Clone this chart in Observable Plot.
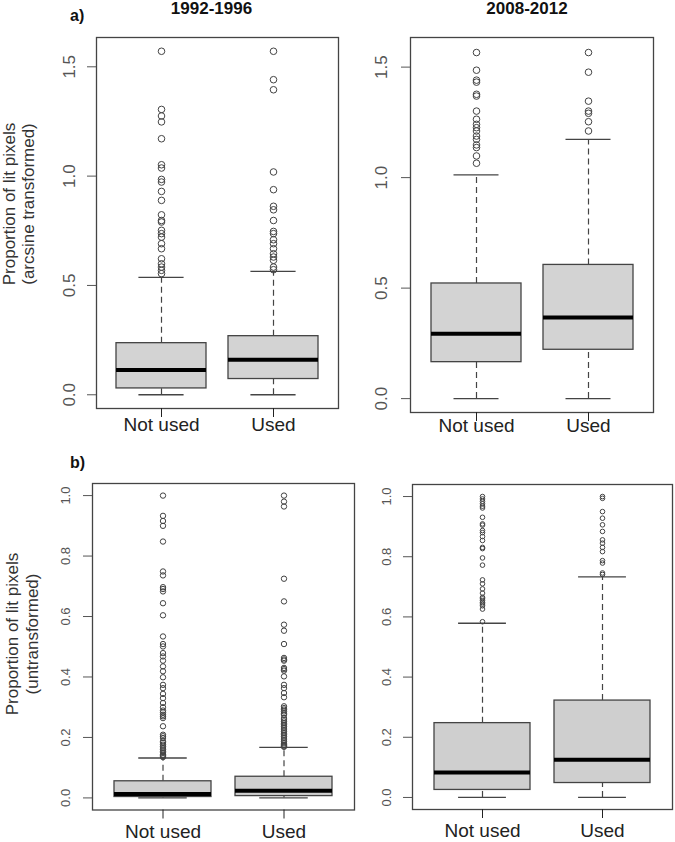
<!DOCTYPE html>
<html>
<head>
<meta charset="utf-8">
<script src="https://cdn.jsdelivr.net/npm/d3@7"></script>
<script src="https://cdn.jsdelivr.net/npm/@observablehq/plot@0.6"></script>
<style>
  body { margin: 0; background: #fff; }
  #root { position: relative; width: 675px; height: 842px; overflow: hidden; background: #fff; }
  #root svg { position: absolute; }
</style>
</head>
<body>
<div id="root"></div>
<script>
// ---------- data ----------
const categories = ["Not used", "Used"];
const periods = ["1992-1996", "2008-2012"];
const panelLetters = ["a)", "b)"];
const yTitleA = ["Proportion of lit pixels", "(arcsine transformed)"];
const yTitleB = ["Proportion of lit pixels", "(untransformed)"];
const aTicks = [0, 0.5, 1.0, 1.5];
const bTicks = [0, 0.2, 0.4, 0.6, 0.8, 1.0];

// a) arcsine transformed, 1992-1996
const a1Lo = [0, 0];
const a1Q1 = [0.029, 0.072];
const a1Med = [0.113, 0.160];
const a1Q3 = [0.236, 0.268];
const a1Hi = [0.537, 0.564];
const a1NotUsedOut = [1.571, 1.305, 1.275, 1.248, 1.171, 1.052, 1.037, 0.985, 0.973, 0.930, 0.889, 0.823, 0.797, 0.790, 0.752, 0.737, 0.721, 0.691, 0.668, 0.622, 0.599, 0.584, 0.569, 0.554];
const a1UsedOut = [1.571, 1.441, 1.395, 1.019, 0.938, 0.862, 0.846, 0.797, 0.747, 0.737, 0.709, 0.691, 0.668, 0.645, 0.630, 0.615, 0.584, 0.572];

// a) arcsine transformed, 2008-2012
const a2Lo = [0, 0];
const a2Q1 = [0.165, 0.221];
const a2Med = [0.293, 0.367];
const a2Q3 = [0.521, 0.605];
const a2Hi = [1.012, 1.173];
const a2NotUsedOut = [1.566, 1.486, 1.441, 1.432, 1.377, 1.369, 1.301, 1.264, 1.241, 1.226, 1.211, 1.188, 1.173, 1.148, 1.136, 1.098, 1.065];
const a2UsedOut = [1.566, 1.477, 1.346, 1.301, 1.291, 1.253, 1.211];

// b) untransformed, 1992-1996
const b1Lo = [0, 0];
const b1Q1 = [0.003, 0.006];
const b1Med = [0.013, 0.024];
const b1Q3 = [0.055, 0.070];
const b1Hi = [0.132, 0.167];
const b1NotUsedOut = [1.0, 0.933, 0.916, 0.900, 0.848, 0.749, 0.736, 0.697, 0.691, 0.683, 0.644, 0.604, 0.534, 0.509, 0.501, 0.479, 0.468, 0.454, 0.435, 0.419, 0.399, 0.374, 0.363, 0.344, 0.330, 0.314, 0.300, 0.289, 0.283, 0.275, 0.270, 0.264, 0.237, 0.209, 0.204, 0.198, 0.187, 0.182, 0.176, 0.170, 0.165, 0.160, 0.154, 0.149, 0.143, 0.140, 0.138, 0.135];
const b1UsedOut = [1.0, 0.980, 0.964, 0.725, 0.650, 0.573, 0.553, 0.509, 0.463, 0.458, 0.454, 0.430, 0.426, 0.421, 0.402, 0.374, 0.363, 0.347, 0.333, 0.303, 0.297, 0.292, 0.286, 0.280, 0.275, 0.264, 0.258, 0.253, 0.247, 0.242, 0.236, 0.231, 0.225, 0.220, 0.214, 0.209, 0.203, 0.198, 0.192, 0.187, 0.181, 0.176, 0.174, 0.171, 0.169];

// b) untransformed, 2008-2012
const b2Lo = [0, 0];
const b2Q1 = [0.025, 0.048];
const b2Med = [0.083, 0.125];
const b2Q3 = [0.247, 0.322];
const b2Hi = [0.579, 0.733];
const b2NotUsedOut = [1.0, 0.992, 0.984, 0.976, 0.968, 0.962, 0.931, 0.909, 0.905, 0.887, 0.880, 0.867, 0.854, 0.831, 0.827, 0.796, 0.772, 0.723, 0.710, 0.693, 0.679, 0.665, 0.660, 0.654, 0.648, 0.643, 0.637, 0.626, 0.584];
const b2UsedOut = [1.0, 0.994, 0.950, 0.928, 0.906, 0.884, 0.856, 0.845, 0.831, 0.817, 0.787, 0.779, 0.746, 0.741];

// ---------- layout ----------
const FONT = '"Liberation Sans", Arial, sans-serif';
const root = document.getElementById("root");

function makePanel(p) {
  const ML = 50, MR = 3, MT = 10, MB = 40;
  const fw = p.R - p.L;
  const bw = fw * 0.8 / 2.16;
  const stats = categories.map((c, i) => ({cat: c, lo: p.lo[i], q1: p.q1[i], med: p.med[i], q3: p.q3[i], hi: p.hi[i]}));
  const outs = categories.flatMap((c, i) => p.out[i].map(v => ({cat: c, v})));
  const line = {stroke: "#444", strokeWidth: 1.3};
  const chart = Plot.plot({
    width: fw + ML + MR,
    height: (p.B - p.T) + MT + MB,
    marginLeft: ML, marginRight: MR, marginTop: MT, marginBottom: MB,
    style: {fontFamily: FONT, background: "transparent", overflow: "visible"},
    x: {type: "band", domain: categories, paddingInner: 0.2, paddingOuter: 0.18, label: null},
    y: {domain: p.domain, label: null},
    marks: [
      Plot.ruleX(stats, {x: "cat", y1: "q3", y2: "hi", ...line, strokeWidth: 1.2, strokeDasharray: "6,4"}),
      Plot.ruleX(stats, {x: "cat", y1: "lo", y2: "q1", ...line, strokeWidth: 1.2, strokeDasharray: "6,4"}),
      Plot.tickY(stats, {x: "cat", y: "hi", insetLeft: bw / 4, insetRight: bw / 4, ...line}),
      Plot.tickY(stats, {x: "cat", y: "lo", insetLeft: bw / 4, insetRight: bw / 4, ...line}),
      Plot.barY(stats, {x: "cat", y1: "q1", y2: "q3", fill: p.boxFill, ...line}),
      Plot.tickY(stats, {x: "cat", y: "med", stroke: "#000", strokeWidth: 4}),
      Plot.dot(outs, {x: "cat", y: "v", r: p.r, stroke: "#444", strokeWidth: 1, fill: "none"}),
      Plot.frame({stroke: "#444", strokeWidth: 1.3}),
      Plot.axisY({ticks: p.ticks, tickFormat: d => d.toFixed(1), tickRotate: -90, tickSize: 9, tickPadding: p.yPad, fontSize: p.tickFont, color: "#555"}),
      Plot.axisX({tickSize: 9, tickPadding: p.xPad, fontSize: 19, color: "#222"})
    ]
  });
  chart.style.left = (p.L - ML) + "px";
  chart.style.top = (p.T - MT) + "px";
  root.appendChild(chart);
}

makePanel({L: 96, R: 338, T: 37, B: 408, domain: [-0.0628, 1.634], ticks: aTicks, tickFont: 17, yPad: 13, xPad: 0, r: 3.3, boxFill: "#d3d3d3",
  lo: a1Lo, q1: a1Q1, med: a1Med, q3: a1Q3, hi: a1Hi, out: [a1NotUsedOut, a1UsedOut]});
makePanel({L: 410, R: 653, T: 37, B: 412, domain: [-0.0628, 1.634], ticks: aTicks, tickFont: 17, yPad: 15, xPad: -3, r: 3.3, boxFill: "#d3d3d3",
  lo: a2Lo, q1: a2Q1, med: a2Med, q3: a2Q3, hi: a2Hi, out: [a2NotUsedOut, a2UsedOut]});
makePanel({L: 92, R: 354, T: 482.5, B: 809, domain: [-0.04, 1.04], ticks: bTicks, tickFont: 13, yPad: 14, xPad: 5, r: 2.7, boxFill: "#cfcfcf",
  lo: b1Lo, q1: b1Q1, med: b1Med, q3: b1Q3, hi: b1Hi, out: [b1NotUsedOut, b1UsedOut]});
makePanel({L: 412, R: 672, T: 484, B: 809, domain: [-0.04, 1.04], ticks: bTicks, tickFont: 13, yPad: 13, xPad: 5, r: 2.3, boxFill: "#cfcfcf",
  lo: b2Lo, q1: b2Q1, med: b2Med, q3: b2Q3, hi: b2Hi, out: [b2NotUsedOut, b2UsedOut]});

// ---------- text overlay ----------
const svg = d3.select(root).append("svg")
  .attr("width", 675).attr("height", 842)
  .style("left", "0px").style("top", "0px")
  .attr("font-family", FONT);

svg.append("text").attr("x", 70).attr("y", 21).attr("font-size", 16).attr("font-weight", "bold").attr("fill", "#111").text(panelLetters[0]);
svg.append("text").attr("x", 70).attr("y", 468).attr("font-size", 16).attr("font-weight", "bold").attr("fill", "#111").text(panelLetters[1]);
svg.append("text").attr("x", 211.5).attr("y", 14).attr("text-anchor", "middle").attr("font-size", 17).attr("font-weight", "bold").attr("fill", "#111").text(periods[0]);
svg.append("text").attr("x", 527).attr("y", 14).attr("text-anchor", "middle").attr("font-size", 17).attr("font-weight", "bold").attr("fill", "#111").text(periods[1]);

function yTitle(lines, xs, cy) {
  lines.forEach((t, i) => {
    svg.append("text")
      .attr("transform", `translate(${xs[i]},${cy}) rotate(-90)`)
      .attr("text-anchor", "middle").attr("font-size", 17).attr("fill", "#333")
      .text(t);
  });
}
yTitle(yTitleA, [15, 34], 204);
yTitle(yTitleB, [18, 38], 634);
</script>
</body>
</html>
